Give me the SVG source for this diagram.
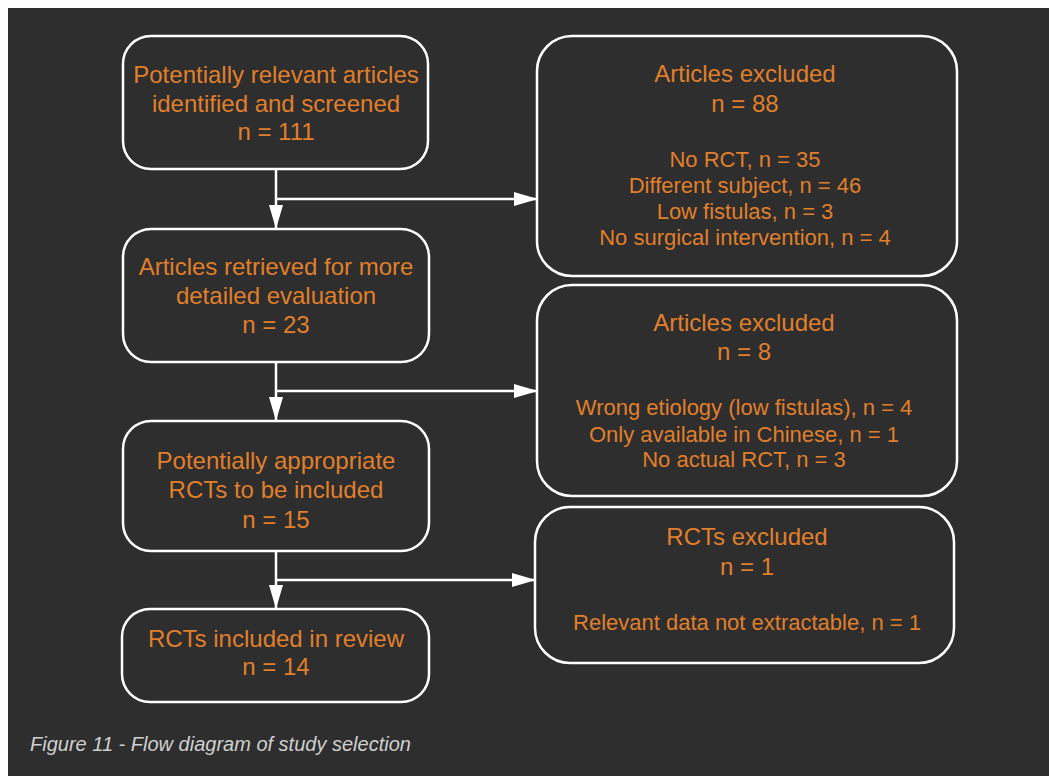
<svg xmlns="http://www.w3.org/2000/svg" width="1049" height="776" viewBox="0 0 1049 776">
<style>
.box{fill:none;stroke:#ffffff;stroke-width:2.5}
.t{font-family:"Liberation Sans",Arial,sans-serif;font-size:24px;fill:#e07f2c;text-anchor:middle}
.s{font-family:"Liberation Sans",Arial,sans-serif;font-size:22px;fill:#e07f2c;text-anchor:middle}
.c{fill:none;stroke:#ffffff;stroke-width:2.5}
.cap{font-family:"Liberation Sans",Arial,sans-serif;font-size:20px;font-style:italic;fill:#d0d0d0}
</style>
<defs>
<marker id="arr" viewBox="0 0 24 14" refX="24" refY="7" markerWidth="24" markerHeight="14" markerUnits="userSpaceOnUse" orient="auto">
<path d="M0,0 L24,7 L0,14 z" fill="#ffffff"/>
</marker>
</defs>
<rect x="0" y="0" width="1049" height="776" fill="#ffffff"/>
<rect x="8" y="8" width="1041" height="768" fill="#2d2e2d"/>
<g id="connectors">
<path class="c" d="M276,169 V229" marker-end="url(#arr)"/>
<path class="c" d="M276,199 H538" marker-end="url(#arr)"/>
<path class="c" d="M276,362 V421" marker-end="url(#arr)"/>
<path class="c" d="M276,391 H538" marker-end="url(#arr)"/>
<path class="c" d="M276,551 V609" marker-end="url(#arr)"/>
<path class="c" d="M276,580 H536" marker-end="url(#arr)"/>
</g>
<g id="n1">
<rect class="box" x="123" y="36" width="305" height="133" rx="28"/>
<text class="t" x="276" y="83">Potentially relevant articles</text>
<text class="t" x="276" y="112">identified and screened</text>
<text class="t" x="276" y="140">n = 111</text>
</g>
<g id="n2">
<rect class="box" x="123" y="229" width="306" height="133" rx="28"/>
<text class="t" x="276" y="275">Articles retrieved for more</text>
<text class="t" x="276" y="304">detailed evaluation</text>
<text class="t" x="276" y="333">n = 23</text>
</g>
<g id="n3">
<rect class="box" x="123" y="421" width="306" height="130" rx="28"/>
<text class="t" x="276" y="469">Potentially appropriate</text>
<text class="t" x="276" y="498">RCTs to be included</text>
<text class="t" x="276" y="528">n = 15</text>
</g>
<g id="n4">
<rect class="box" x="122" y="609" width="307" height="93" rx="28"/>
<text class="t" x="276" y="647">RCTs included in review</text>
<text class="t" x="276" y="675">n = 14</text>
</g>
<g id="x1">
<rect class="box" x="537" y="36" width="420" height="240" rx="35"/>
<text class="t" x="745" y="82">Articles excluded</text>
<text class="t" x="745" y="112">n = 88</text>
<text class="s" x="745" y="167">No RCT, n = 35</text>
<text class="s" x="745" y="193">Different subject, n = 46</text>
<text class="s" x="745" y="219">Low fistulas, n = 3</text>
<text class="s" x="745" y="245">No surgical intervention, n = 4</text>
</g>
<g id="x2">
<rect class="box" x="537" y="285" width="420" height="211" rx="35"/>
<text class="t" x="744" y="331">Articles excluded</text>
<text class="t" x="744" y="360">n = 8</text>
<text class="s" x="744" y="415">Wrong etiology (low fistulas), n = 4</text>
<text class="s" x="744" y="442">Only available in Chinese, n = 1</text>
<text class="s" x="744" y="467">No actual RCT, n = 3</text>
</g>
<g id="x3">
<rect class="box" x="535" y="507" width="419" height="156" rx="35"/>
<text class="t" x="747" y="545">RCTs excluded</text>
<text class="t" x="747" y="575">n = 1</text>
<text class="s" x="747" y="630">Relevant data not extractable, n = 1</text>
</g>
<text class="cap" x="30" y="751">Figure 11 - Flow diagram of study selection</text>
</svg>
